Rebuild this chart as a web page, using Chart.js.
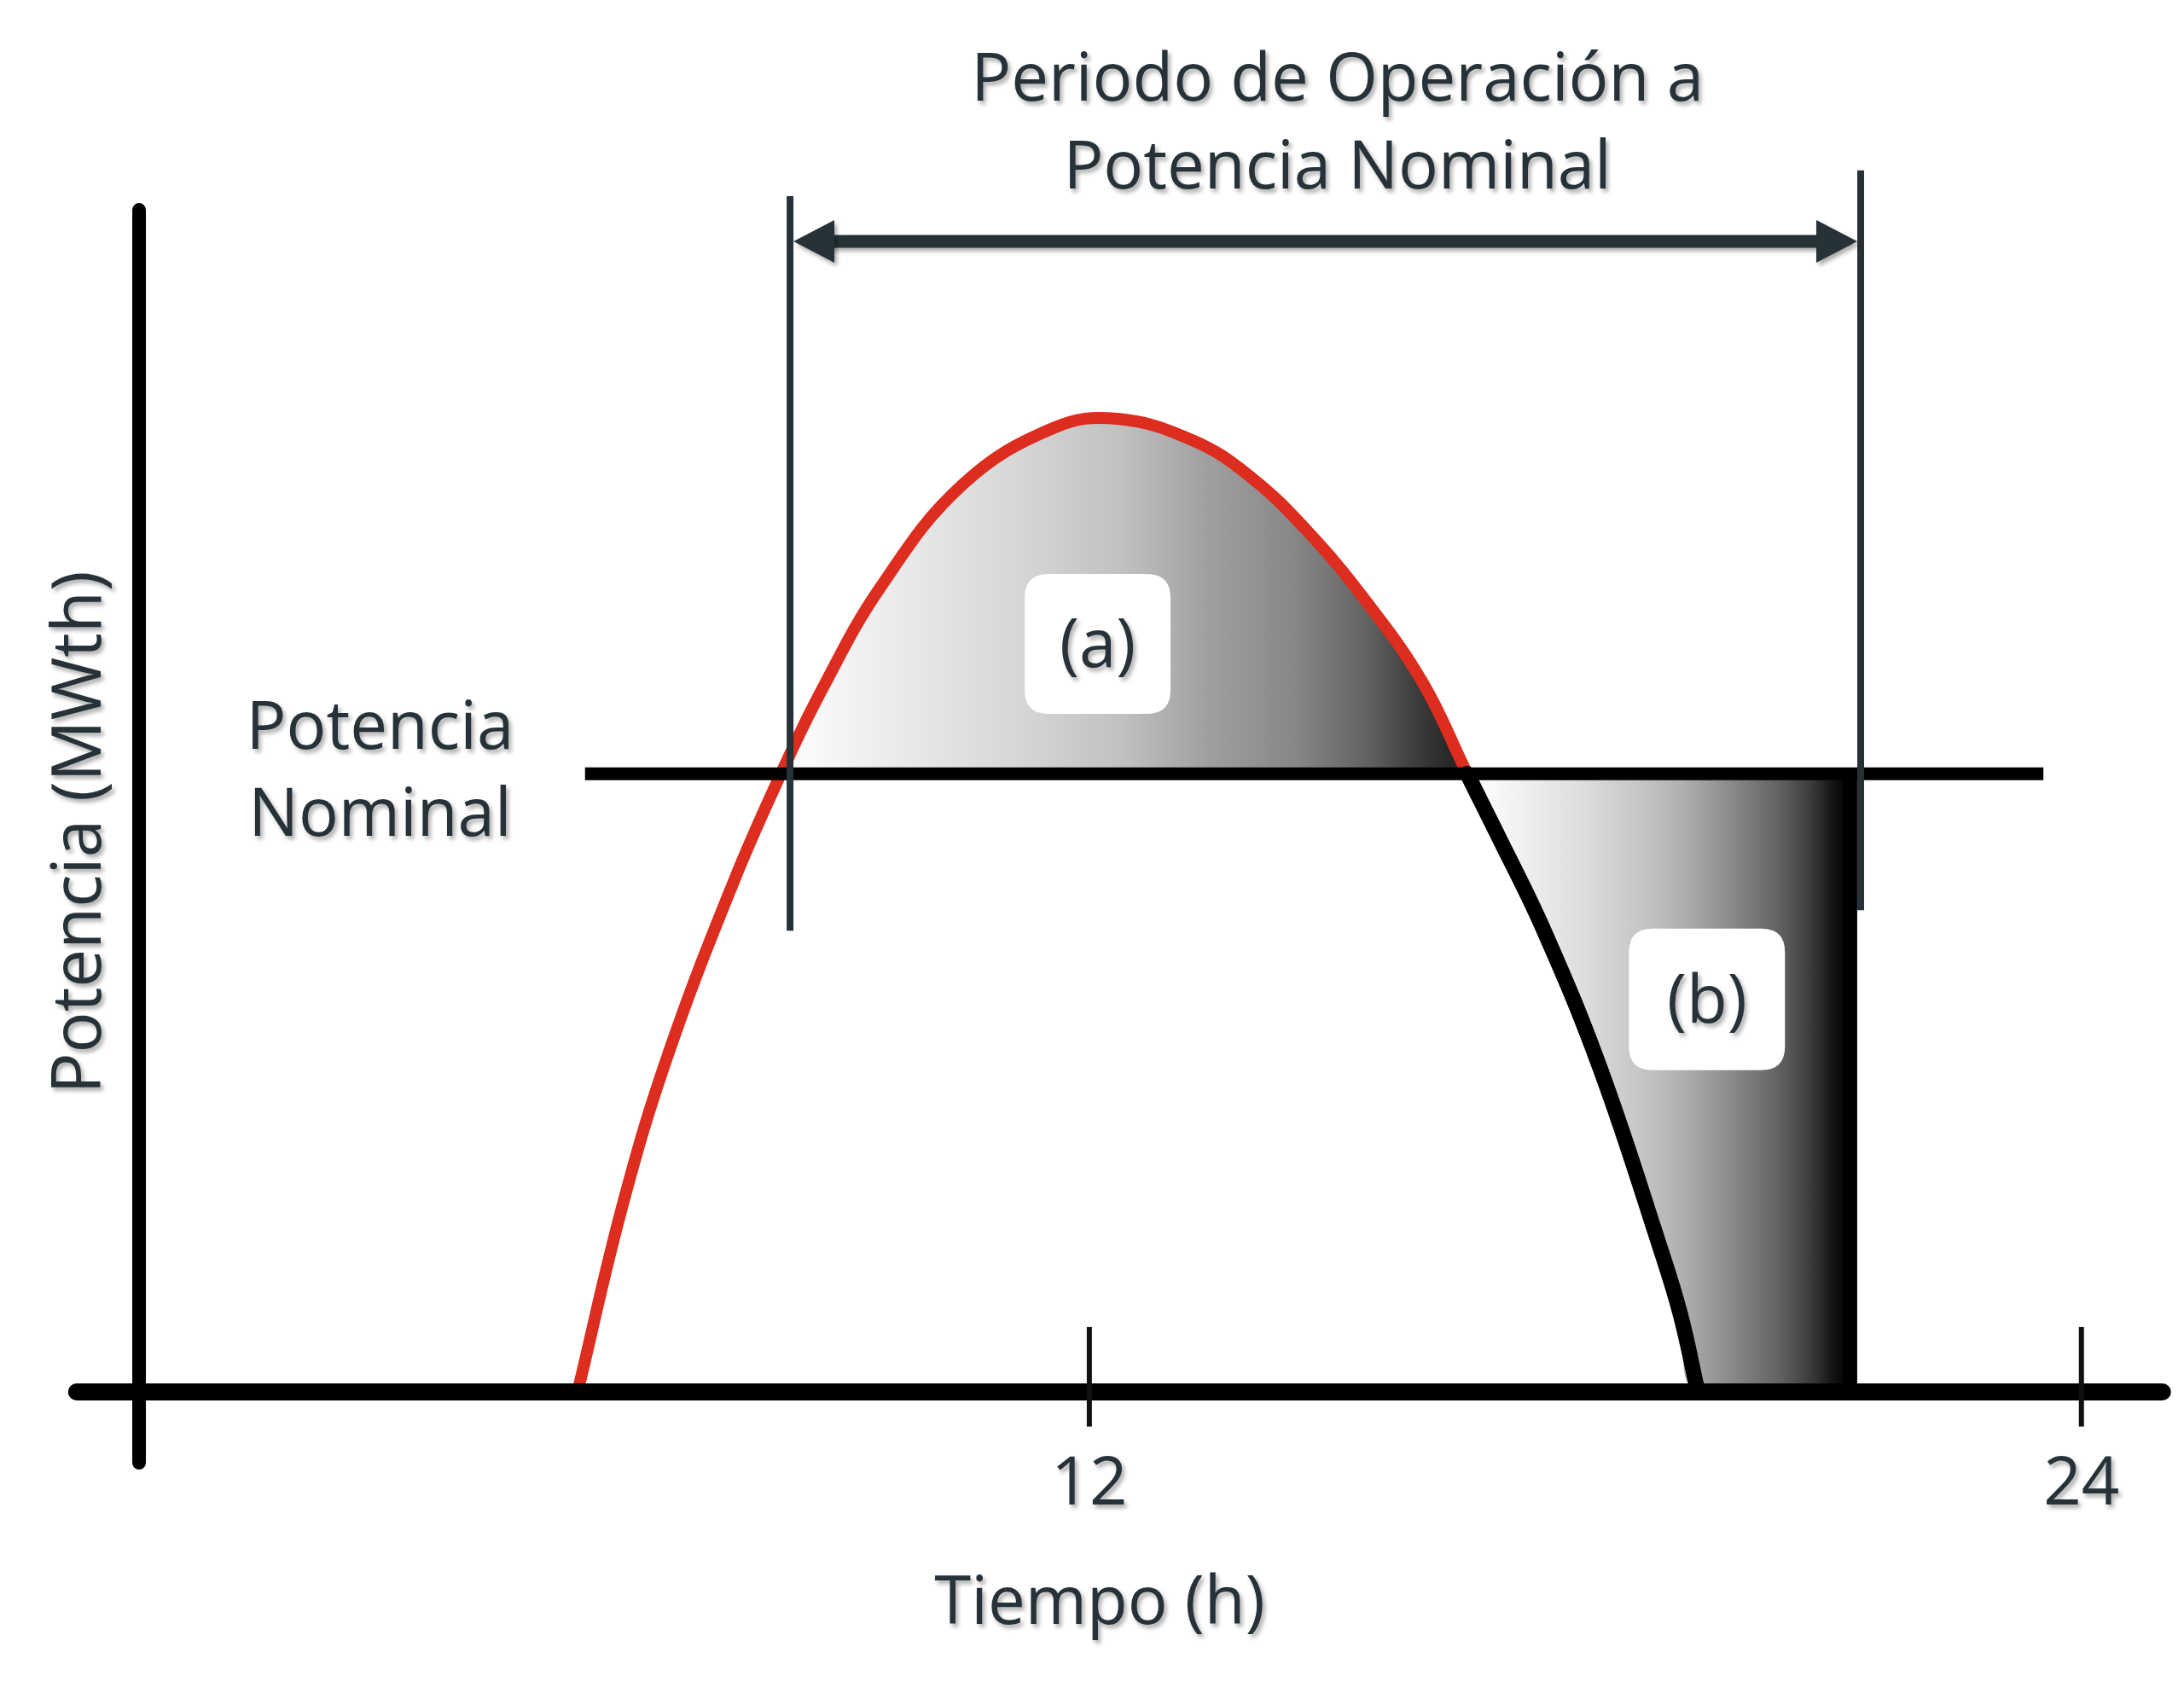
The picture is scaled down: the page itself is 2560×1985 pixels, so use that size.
<!DOCTYPE html>
<html>
<head>
<meta charset="utf-8">
<script src="https://cdn.jsdelivr.net/npm/chart.js@4.4.1/dist/chart.umd.min.js"></script>
<style>
  html, body { margin: 0; padding: 0; background: #ffffff; }
  canvas { display: block; }
</style>
</head>
<body>
<canvas id="chart" width="2560" height="1985" style="width:2560px;height:1985px"></canvas>
<script>
// ---------------- data ----------------
// power curve: red up to where it falls back below nominal, black afterwards
const powerHours  = [5.81, 6.36, 6.91, 7.70, 8.27, 8.75, 9.47, 10.47, 11.58, 12.34, 13.27, 13.96, 14.64, 15.33, 16.03, 16.57, 16.92, 17.50, 18.18, 18.90, 19.15, 19.36];
const powerValues = [0, 30.5, 54.8, 82.6, 100, 113.2, 130.1, 146.8, 156.0, 157.4, 153.8, 147.9, 139.2, 128.2, 114.8, 100, 90.6, 74.6, 52.3, 23.5, 12.5, 0];
const surplusStartHour = 8.27;   // curve crosses nominal going up
const surplusEndHour = 16.57;    // curve crosses nominal going down (red -> black)
const nominalPower = 100;
const nominalLineHours = [5.90, 23.54];
const storageEndHour = 21.2;
const periodHours = [8.38, 21.33];
const periodArrowPower = 186.1;
const periodLinePowerLeft = [193.4, 74.6];
const periodLinePowerRight = [197.6, 77.9];
const xAxisHours = [-0.25, 24.98];
const yAxisHour = 0.506;
const yAxisPower = [191.2, -11.45];
const xTickValues = [12, 24];
const xTickLabels = ['12', '24'];
const xTickMarkPower = [10.5, -5.6];
const xTitleText = 'Tiempo (h)';
const yTitleText = 'Potencia (MWth)';
const titleLines = ['Periodo de Operación a', 'Potencia Nominal'];
const nominalLabelLines = ['Potencia', 'Nominal'];
const regionLabels = ['(a)', '(b)'];

// ---------------- styling / placement ----------------
const TEXT = '#263238';
const RED = '#dc2d1e';
const FONT = '"Open Sans", "DejaVu Sans", sans-serif';
const toXY = (xs, ys) => xs.map((x, i) => ({ x: x, y: ys[i] }));
const curvePoints = toXY(powerHours, powerValues);
const areaAPoints = curvePoints.filter(p => p.x >= surplusStartHour && p.x <= surplusEndHour);
const areaBPoints = curvePoints.filter(p => p.x >= surplusEndHour).concat([{ x: storageEndHour, y: 0 }]);

function gradientFill(fromHour, toHour, stops) {
  return (ctx) => {
    const chart = ctx.chart;
    if (!chart.chartArea) return 'rgba(0,0,0,0)';
    const xs = chart.scales.x;
    const g = chart.ctx.createLinearGradient(xs.getPixelForValue(fromHour), 0, xs.getPixelForValue(toHour), 0);
    stops.forEach(s => g.addColorStop(s[0], s[1]));
    return g;
  };
}
const gradA = [[0, '#ffffff'], [0.12, '#f0f0f0'], [0.35, '#d6d6d6'], [0.5, '#c0c0c0'], [0.62, '#a0a0a0'], [0.75, '#878787'], [0.85, '#646464'], [0.93, '#3a3a3a'], [1, '#1e1e1e']];
const gradB = [[0, '#ffffff'], [0.06, '#fafafa'], [0.31, '#dcdcdc'], [0.44, '#c8c8c8'], [0.56, '#b0b0b0'], [0.69, '#8a8a8a'], [0.82, '#606060'], [0.90, '#3a3a3a'], [0.96, '#111111'], [1, '#000000']];

function shadowOn(c) { c.shadowColor = 'rgba(0,0,0,0.33)'; c.shadowOffsetX = 3; c.shadowOffsetY = 4; c.shadowBlur = 5; }
function shadowOff(c) { c.shadowColor = 'rgba(0,0,0,0)'; c.shadowOffsetX = 0; c.shadowOffsetY = 0; c.shadowBlur = 0; }

function seg(c, x1, y1, x2, y2, w, col, cap) {
  c.beginPath(); c.moveTo(x1, y1); c.lineTo(x2, y2);
  c.lineWidth = w; c.strokeStyle = col; c.lineCap = cap || 'butt'; c.stroke();
}
function roundRect(c, cx, cy, w, h, r) {
  const x = cx - w / 2, y = cy - h / 2;
  c.beginPath();
  c.moveTo(x + r, y); c.lineTo(x + w - r, y); c.quadraticCurveTo(x + w, y, x + w, y + r);
  c.lineTo(x + w, y + h - r); c.quadraticCurveTo(x + w, y + h, x + w - r, y + h);
  c.lineTo(x + r, y + h); c.quadraticCurveTo(x, y + h, x, y + h - r);
  c.lineTo(x, y + r); c.quadraticCurveTo(x, y, x + r, y); c.closePath();
}

const schematicPlugin = {
  id: 'schematic',
  beforeDraw(chart) { shadowOn(chart.ctx); },
  beforeDatasetsDraw(chart) { shadowOff(chart.ctx); },
  afterDatasetsDraw(chart) {
    const c = chart.ctx;
    const X = v => chart.scales.x.getPixelForValue(v);
    const Y = v => chart.scales.y.getPixelForValue(v);
    c.save();
    shadowOff(c);
    // black edge of storage region (b)
    seg(c, X(storageEndHour), Y(nominalPower), X(storageEndHour), Y(0), 17, '#000');
    // nominal power line
    seg(c, X(nominalLineHours[0]), Y(nominalPower), X(nominalLineHours[1]), Y(nominalPower), 15, '#000');
    // axes
    seg(c, X(xAxisHours[0]), Y(0), X(xAxisHours[1]), Y(0), 20, '#000', 'round');
    seg(c, X(yAxisHour), Y(yAxisPower[0]), X(yAxisHour), Y(yAxisPower[1]), 16, '#000', 'round');
    xTickValues.forEach(v => seg(c, X(v), Y(xTickMarkPower[0]), X(v), Y(xTickMarkPower[1]), 6, '#111'));
    // period of operation at nominal power
    seg(c, X(periodHours[0]), Y(periodLinePowerLeft[0]), X(periodHours[0]), Y(periodLinePowerLeft[1]), 8, TEXT);
    seg(c, X(periodHours[1]), Y(periodLinePowerRight[0]), X(periodHours[1]), Y(periodLinePowerRight[1]), 8, TEXT);
    const ay = Y(periodArrowPower), ax1 = X(periodHours[0]) + 4, ax2 = X(periodHours[1]) - 4;
    shadowOn(c);
    seg(c, ax1 + 40, ay, ax2 - 40, ay, 15, TEXT);
    c.fillStyle = TEXT;
    c.beginPath(); c.moveTo(ax1, ay); c.lineTo(ax1 + 48, ay - 25); c.lineTo(ax1 + 48, ay + 25); c.closePath(); c.fill();
    c.beginPath(); c.moveTo(ax2, ay); c.lineTo(ax2 - 48, ay - 25); c.lineTo(ax2 - 48, ay + 25); c.closePath(); c.fill();
    shadowOff(c);
    // label boxes
    const boxes = [
      { text: regionLabels[0], h: 12.10, v: 121.0, w: 171, hh: 164 },
      { text: regionLabels[1], h: 19.47, v: 63.5, w: 183, hh: 166 }
    ];
    boxes.forEach(b => {
      c.fillStyle = '#ffffff';
      roundRect(c, X(b.h), Y(b.v), b.w, b.hh, 28);
      c.fill();
    });
    // texts
    shadowOn(c);
    c.fillStyle = TEXT;
    c.textAlign = 'center';
    c.textBaseline = 'alphabetic';
    c.font = '400 78px ' + FONT;
    boxes.forEach(b => c.fillText(b.text, X(b.h), Y(b.v) + 27));
    c.fillText(titleLines[0], X(15.0), Y(208.9));
    c.fillText(titleLines[1], X(15.0), Y(194.7));
    c.fillText(nominalLabelLines[0], X(3.42), Y(104.0));
    c.fillText(nominalLabelLines[1], X(3.42), Y(89.9));
    c.restore();
  }
};

const isFalling = (ctx) => ctx.p0.parsed.x >= surplusEndHour - 1e-9;

const chart = new Chart(document.getElementById('chart'), {
  type: 'line',
  data: {
    datasets: [
      { label: 'Potencia', data: curvePoints, borderColor: RED, borderWidth: 14, pointRadius: 0,
        tension: 0.4, fill: false, borderCapStyle: 'round', borderJoinStyle: 'round',
        segment: {
          borderColor: ctx => isFalling(ctx) ? '#000000' : RED,
          borderWidth: ctx => isFalling(ctx) ? 18 : 14
        } },
      { label: '(a)', data: areaAPoints, borderColor: 'rgba(0,0,0,0)', borderWidth: 1, pointRadius: 0,
        tension: 0.4, fill: { value: nominalPower },
        backgroundColor: gradientFill(surplusStartHour, surplusEndHour, gradA) },
      { label: '(b)', data: areaBPoints, borderColor: 'rgba(0,0,0,0)', borderWidth: 1, pointRadius: 0,
        tension: 0.4, fill: { value: nominalPower },
        backgroundColor: gradientFill(surplusEndHour, storageEndHour, gradB) }
    ]
  },
  options: {
    responsive: false,
    animation: false,
    devicePixelRatio: 1,
    events: [],
    layout: { padding: { top: 320, right: 96, bottom: 0, left: 0 } },
    plugins: { legend: { display: false }, tooltip: { enabled: false }, title: { display: false } },
    scales: {
      x: {
        type: 'linear', min: 0, max: 24.25,
        grid: { display: false, drawTicks: false },
        border: { display: false },
        afterBuildTicks: (scale) => { scale.ticks = xTickValues.map(v => ({ value: v })); },
        afterFit: (scale) => { scale.height = 353; },
        ticks: {
          padding: 71, maxRotation: 0, autoSkip: false, color: TEXT,
          font: { family: FONT, size: 78, lineHeight: 1 },
          callback: (value) => xTickLabels[xTickValues.indexOf(value)]
        },
        title: { display: true, text: xTitleText, color: TEXT, padding: { top: 0, bottom: 64 },
          font: { family: FONT, size: 78, lineHeight: 1 } }
      },
      y: {
        type: 'linear', min: 0, max: 181,
        grid: { display: false, drawTicks: false },
        border: { display: false },
        ticks: { display: false },
        afterFit: (scale) => { scale.width = 114; },
        title: { display: true, text: yTitleText, color: TEXT, padding: { top: 55, bottom: 0 },
          font: { family: FONT, size: 80, lineHeight: 1 } }
      }
    }
  },
  plugins: [schematicPlugin]
});
</script>
</body>
</html>
